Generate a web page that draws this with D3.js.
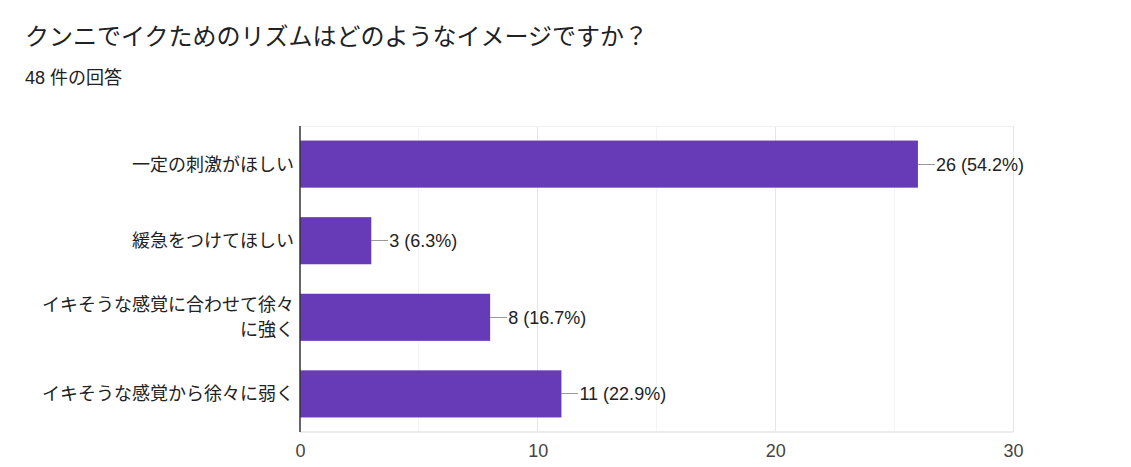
<!DOCTYPE html>
<html><head><meta charset="utf-8">
<script src="https://cdn.jsdelivr.net/npm/d3@7"></script>
<style>
html,body{margin:0;padding:0;background:#fff;}
svg{display:block;font-family:"Liberation Sans",Arial,"Noto Sans CJK JP",sans-serif;}
</style></head><body>
<svg id="c" width="1131" height="467"></svg>
<script>
const title = "クンニでイクためのリズムはどのようなイメージですか？";
const subtitle = "48 件の回答";
const categories = [["一定の刺激がほしい"],["緩急をつけてほしい"],["イキそうな感覚に合わせて徐々","に強く"],["イキそうな感覚から徐々に弱く"]];
const values = [26, 3, 8, 11];
const labels = ["26 (54.2%)","3 (6.3%)","8 (16.7%)","11 (22.9%)"];
const majorTicks = [0, 10, 20, 30];
const minorTicks = [5, 15, 25];

const svg = d3.select("#c");
const L = 300, R = 1013, T = 126, B = 432;
const x = d3.scaleLinear().domain([0, 30]).range([L, R]);
const y = d3.scaleBand().domain(d3.range(values.length)).range([T, B]).paddingInner(0.385).paddingOuter(0.19);

svg.append("text").attr("x", 25).attr("y", 45).attr("font-size", 24).attr("fill", "#202124").text(title);
svg.append("text").attr("x", 25).attr("y", 84).attr("font-size", 18).attr("fill", "#202124").text(subtitle);

// grid
svg.selectAll("line.minor").data(minorTicks).enter().append("line")
  .attr("x1", d => x(d)).attr("x2", d => x(d)).attr("y1", T).attr("y2", B)
  .attr("stroke", "#f4f4f4").attr("stroke-width", 1).attr("shape-rendering","crispEdges");
svg.selectAll("line.major").data(majorTicks.slice(1)).enter().append("line")
  .attr("x1", d => x(d)).attr("x2", d => x(d)).attr("y1", T).attr("y2", B)
  .attr("stroke", "#e6e6e6").attr("stroke-width", 1).attr("shape-rendering","crispEdges");
svg.append("line").attr("x1", L).attr("x2", R).attr("y1", T).attr("y2", T).attr("stroke", "#f0f0f0").attr("shape-rendering","crispEdges");
svg.append("line").attr("x1", L).attr("x2", R).attr("y1", B).attr("y2", B).attr("stroke", "#ebebeb").attr("stroke-width", 2).attr("shape-rendering","crispEdges");

// bars
svg.selectAll("rect.bar").data(values).enter().append("rect")
  .attr("x", x(0)).attr("y", (d,i) => y(i)).attr("width", d => x(d) - x(0)).attr("height", y.bandwidth())
  .attr("fill", "#673ab7");

// connectors + value labels
values.forEach((v, i) => {
  const cy = y(i) + y.bandwidth()/2;
  svg.append("line").attr("x1", x(v)).attr("x2", x(v) + 17).attr("y1", cy).attr("y2", cy)
    .attr("stroke", "#999").attr("stroke-width", 1).attr("shape-rendering","crispEdges");
  svg.append("text").attr("x", x(v) + 18).attr("y", cy).attr("dy", "0.36em")
    .attr("font-size", 18).attr("fill", "#222").text(labels[i]);
});

// axis baseline
svg.append("line").attr("x1", L).attr("x2", L).attr("y1", T).attr("y2", B).attr("stroke", "#333").attr("stroke-width", 1.5);

// category labels
categories.forEach((lines, i) => {
  const cy = y(i) + y.bandwidth()/2;
  const lh = 25;
  const t = svg.append("text").attr("text-anchor", "end").attr("font-size", 18).attr("fill", "#222");
  lines.forEach((ln, j) => {
    t.append("tspan").attr("x", 294).attr("y", cy + (j - (lines.length-1)/2) * lh).attr("dy", "0.36em").text(ln);
  });
});

// x axis labels
const ax = svg.append("g").attr("transform", `translate(0,${B})`)
  .call(d3.axisBottom(x).tickValues(majorTicks).tickSize(0).tickPadding(12).tickFormat(d3.format("d")));
ax.select(".domain").remove();
ax.selectAll("text").attr("font-size", 18).attr("fill", "#444").attr("font-family", "'Liberation Sans',Arial,sans-serif");
</script>
</body></html>
